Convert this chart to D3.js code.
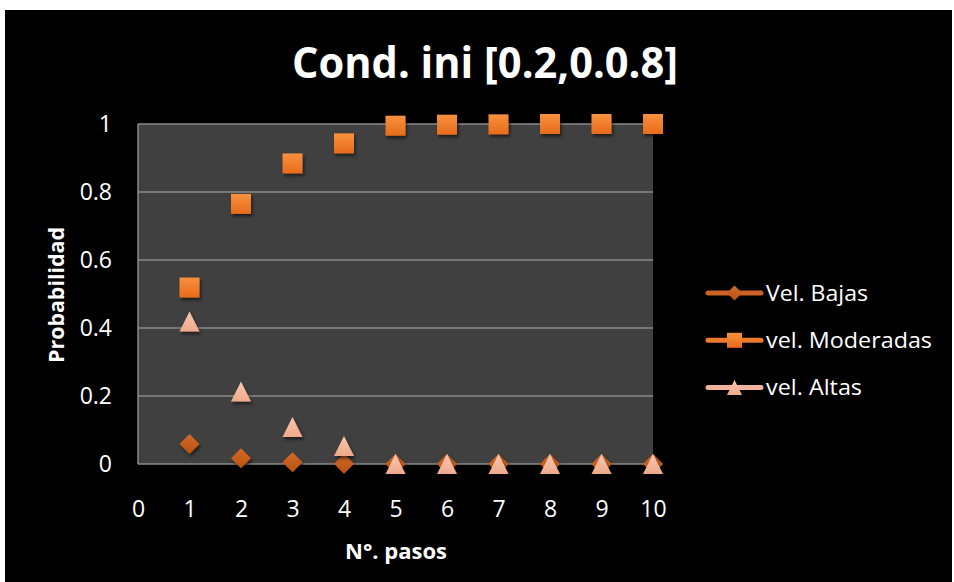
<!DOCTYPE html>
<html>
<head>
<meta charset="utf-8">
<script src="https://cdn.jsdelivr.net/npm/d3@7"></script>
<style>
  body { margin: 0; background: #fff; }
  text { font-family: "Open Sans", "Liberation Sans", sans-serif; fill: #fff; }
</style>
</head>
<body>
<svg id="chart" width="954" height="582"></svg>
<script>
var steps = [1, 2, 3, 4, 5, 6, 7, 8, 9, 10];
var bajas = [0.059, 0.017, 0.005, 0.001, 0, 0, 0, 0, 0, 0];
var moderadas = [0.519, 0.765, 0.884, 0.943, 0.995, 0.998, 0.999, 1, 1, 1];
var altas = [0.419, 0.213, 0.109, 0.053, 0, 0, 0, 0, 0, 0];
var xTicks = [0, 1, 2, 3, 4, 5, 6, 7, 8, 9, 10];
var yTicks = [0, 0.2, 0.4, 0.6, 0.8, 1];
var seriesNames = ["Vel. Bajas", "vel. Moderadas", "vel. Altas"];
var legendWidths = [102, 166, 96];

var svg = d3.select("#chart");

// chart background
svg.append("rect").attr("x", 5).attr("y", 10).attr("width", 947).attr("height", 572).attr("fill", "#000");

var defs = svg.append("defs");
defs.append("filter").attr("id", "shadow").attr("x", "-50%").attr("y", "-50%").attr("width", "200%").attr("height", "200%")
  .append("feDropShadow").attr("dx", 1.5).attr("dy", 2.5).attr("stdDeviation", 1.8)
  .attr("flood-color", "#000").attr("flood-opacity", 0.55);

function grad(id, top, bottom) {
  var g = defs.append("linearGradient").attr("id", id).attr("x1", 0).attr("y1", 0).attr("x2", 0).attr("y2", 1);
  g.append("stop").attr("offset", "0%").attr("stop-color", top);
  g.append("stop").attr("offset", "100%").attr("stop-color", bottom);
}
grad("gBajas", "#D4692A", "#B9520F");
grad("gMod", "#F7913F", "#E76B1A");
grad("gAltas", "#F9C7B1", "#EFA98B");

var x = d3.scaleLinear().domain([0, 10]).range([138, 653]);
var y = d3.scaleLinear().domain([0, 1]).range([464, 124]);

// plot area
svg.append("rect").attr("x", x(0)).attr("y", y(1)).attr("width", x(10) - x(0)).attr("height", y(0) - y(1)).attr("fill", "#404040");

// gridlines
svg.append("g").selectAll("line").data(yTicks).enter().append("line")
  .attr("x1", x(0)).attr("x2", x(10))
  .attr("y1", function(d) { return y(d); }).attr("y2", function(d) { return y(d); })
  .attr("stroke", "#8a8a8a").attr("stroke-width", 1.5);
svg.append("line").attr("x1", x(0)).attr("x2", x(0)).attr("y1", y(1)).attr("y2", y(0))
  .attr("stroke", "#8a8a8a").attr("stroke-width", 1.5);

// axes
var yAxis = svg.append("g").attr("transform", "translate(" + x(0) + ",0)")
  .call(d3.axisLeft(y).tickValues(yTicks).tickSize(0).tickPadding(26).tickFormat(function(d) { return d3.format("")(d); }));
var xAxis = svg.append("g").attr("transform", "translate(0," + y(0) + ")")
  .call(d3.axisBottom(x).tickValues(xTicks).tickSize(0).tickPadding(30).tickFormat(d3.format("d")));
svg.selectAll(".domain").remove();
svg.selectAll(".tick text").attr("font-family", "'Open Sans', sans-serif").attr("font-size", 23).attr("fill", "#fff");
xAxis.selectAll(".tick text").attr("dy", 0).attr("y", 53);

// titles
svg.append("text").attr("x", 485).attr("y", 78).attr("text-anchor", "middle")
  .attr("font-size", 43).attr("font-weight", "bold")
  .attr("textLength", 386).attr("lengthAdjust", "spacingAndGlyphs").text("Cond. ini [0.2,0.0.8]");
svg.append("text").attr("x", 396).attr("y", 559).attr("text-anchor", "middle")
  .attr("font-size", 22).attr("font-weight", "bold")
  .attr("textLength", 102).attr("lengthAdjust", "spacingAndGlyphs").text("N°. pasos");
svg.append("text").attr("transform", "translate(64,295) rotate(-90)").attr("text-anchor", "middle")
  .attr("font-size", 22).attr("font-weight", "bold")
  .attr("textLength", 136).attr("lengthAdjust", "spacingAndGlyphs").text("Probabilidad");

// marker shapes
function diamond(s) { return "M0," + (-s / 2) + "L" + (s / 2) + ",0L0," + (s / 2) + "L" + (-s / 2) + ",0Z"; }
function square(s) { return "M" + (-s / 2) + "," + (-s / 2) + "h" + s + "v" + s + "h" + (-s) + "Z"; }
function triangle(s) { return "M0," + (-s / 2) + "L" + (s / 2) + "," + (s / 2) + "L" + (-s / 2) + "," + (s / 2) + "Z"; }

var series = [
  { name: seriesNames[0], values: bajas, shape: diamond, size: 20, fill: "url(#gBajas)", line: "#CC6224" },
  { name: seriesNames[1], values: moderadas, shape: square, size: 20, fill: "url(#gMod)", line: "#EE7A2D" },
  { name: seriesNames[2], values: altas, shape: triangle, size: 20, fill: "url(#gAltas)", line: "#F2B39A" }
];

series.forEach(function(s) {
  svg.append("g").attr("filter", "url(#shadow)").selectAll("path").data(s.values).enter().append("path")
    .attr("transform", function(d, i) { return "translate(" + x(steps[i]) + "," + y(d) + ")"; })
    .attr("d", s.shape(s.size)).attr("fill", s.fill);
});

// legend
var legend = svg.append("g").selectAll("g").data(series).enter().append("g")
  .attr("transform", function(d, i) { return "translate(0," + (293 + i * 47.3) + ")"; });
legend.append("line").attr("x1", 708).attr("x2", 761).attr("y1", 0).attr("y2", 0)
  .attr("stroke", function(d) { return d.line; }).attr("stroke-width", 5).attr("stroke-linecap", "round");
legend.append("path").attr("transform", "translate(734.5,0)")
  .attr("d", function(d) { return d.shape(15); }).attr("fill", function(d) { return d.fill; });
legend.append("text").attr("x", 766).attr("y", 7.5).attr("font-size", 22)
  .attr("textLength", function(d, i) { return legendWidths[i]; }).attr("lengthAdjust", "spacingAndGlyphs")
  .text(function(d) { return d.name; });
</script>
</body>
</html>
